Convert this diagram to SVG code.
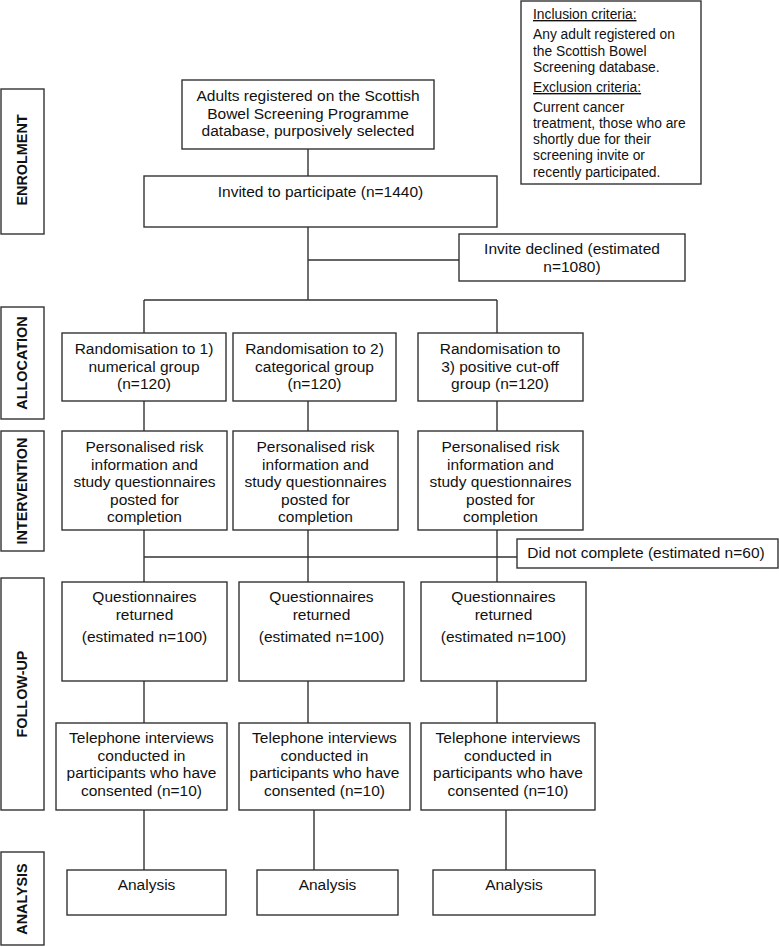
<svg xmlns="http://www.w3.org/2000/svg" width="779" height="947" viewBox="0 0 779 947">
<style>
.b{fill:#fff;stroke:#333;stroke-width:1.4}
.t{font-family:"Liberation Sans",Arial,sans-serif;font-size:15.5px;fill:#111;text-anchor:middle}
.c{font-family:"Liberation Sans",Arial,sans-serif;font-size:13.8px;fill:#111}
.s{font-family:"Liberation Sans",Arial,sans-serif;font-size:14.4px;font-weight:bold;fill:#111;text-anchor:middle}
.l{fill:none;stroke:#333;stroke-width:1.4}
</style>
<rect width="779" height="947" fill="#fff"/>
<g id="connectors">
<path class="l" d="M308 149V176M308 227V300M308 260H459M144 300H497M144 300V333M497 300V333M144 401V431M308 401V431M497 401V431M144 530V582M308 530V582M497 530V582M144 557H517M144 681V723M308 681V723M497 681V723M144 810V870M314 810V870M506 810V870"/>
</g>
<g id="stage-enrolment"><rect class="b" x="1" y="89" width="43" height="145"/><text class="s" transform="translate(26.5 160) rotate(-90)">ENROLMENT</text></g>
<g id="stage-allocation"><rect class="b" x="1" y="307" width="43" height="112"/><text class="s" transform="translate(26.5 363) rotate(-90)">ALLOCATION</text></g>
<g id="stage-intervention"><rect class="b" x="1" y="431" width="43" height="120"/><text class="s" transform="translate(26.5 491) rotate(-90)">INTERVENTION</text></g>
<g id="stage-followup"><rect class="b" x="1" y="578" width="43" height="232"/><text class="s" transform="translate(26.5 694) rotate(-90)">FOLLOW-UP</text></g>
<g id="stage-analysis"><rect class="b" x="1" y="852" width="43" height="93"/><text class="s" transform="translate(26.5 899) rotate(-90)">ANALYSIS</text></g>
<g id="criteria"><rect class="b" x="521" y="1" width="180" height="183"/>
<text class="c" x="533" y="19" text-decoration="underline">Inclusion criteria:</text>
<text class="c" x="533" y="39">Any adult registered on</text>
<text class="c" x="533" y="56">the Scottish Bowel</text>
<text class="c" x="533" y="72">Screening database.</text>
<text class="c" x="533" y="92" text-decoration="underline">Exclusion criteria:</text>
<text class="c" x="533" y="112">Current cancer</text>
<text class="c" x="533" y="128">treatment, those who are</text>
<text class="c" x="533" y="144">shortly due for their</text>
<text class="c" x="533" y="160">screening invite or</text>
<text class="c" x="533" y="177">recently participated.</text>
</g>
<g id="adults"><rect class="b" x="182" y="80" width="252" height="69"/>
<text class="t" x="308" y="101">Adults registered on the Scottish</text>
<text class="t" x="308" y="118.5">Bowel Screening Programme</text>
<text class="t" x="308" y="136">database, purposively selected</text></g>
<g id="invited"><rect class="b" x="144" y="176" width="353" height="51"/>
<text class="t" x="320.5" y="197">Invited to participate (n=1440)</text></g>
<g id="declined"><rect class="b" x="459" y="234" width="226" height="47"/>
<text class="t" x="572" y="254">Invite declined (estimated</text>
<text class="t" x="572" y="272">n=1080)</text></g>
<g id="rand1"><rect class="b" x="62" y="333" width="164" height="68"/>
<text class="t" x="144" y="354">Randomisation to 1)</text>
<text class="t" x="144" y="371.5">numerical group</text>
<text class="t" x="144" y="389">(n=120)</text></g>
<g id="rand2"><rect class="b" x="233" y="333" width="163" height="68"/>
<text class="t" x="314.5" y="354">Randomisation to 2)</text>
<text class="t" x="314.5" y="371.5">categorical group</text>
<text class="t" x="314.5" y="389">(n=120)</text></g>
<g id="rand3"><rect class="b" x="418" y="333" width="165" height="68"/>
<text class="t" x="500" y="354">Randomisation to</text>
<text class="t" x="500" y="371.5">3) positive cut-off</text>
<text class="t" x="500" y="389">group (n=120)</text></g>
<g id="int1"><rect class="b" x="62" y="431" width="165" height="99"/>
<text class="t" x="144.5" y="452">Personalised risk</text>
<text class="t" x="144.5" y="469.5">information and</text>
<text class="t" x="144.5" y="487">study questionnaires</text>
<text class="t" x="144.5" y="504.5">posted for</text>
<text class="t" x="144.5" y="522">completion</text></g>
<g id="int2"><rect class="b" x="233" y="431" width="165" height="99"/>
<text class="t" x="315.5" y="452">Personalised risk</text>
<text class="t" x="315.5" y="469.5">information and</text>
<text class="t" x="315.5" y="487">study questionnaires</text>
<text class="t" x="315.5" y="504.5">posted for</text>
<text class="t" x="315.5" y="522">completion</text></g>
<g id="int3"><rect class="b" x="418" y="431" width="165" height="99"/>
<text class="t" x="500.5" y="452">Personalised risk</text>
<text class="t" x="500.5" y="469.5">information and</text>
<text class="t" x="500.5" y="487">study questionnaires</text>
<text class="t" x="500.5" y="504.5">posted for</text>
<text class="t" x="500.5" y="522">completion</text></g>
<g id="notcomplete"><rect class="b" x="517" y="539" width="261" height="29"/>
<text class="t" x="646" y="558">Did not complete (estimated n=60)</text></g>
<g id="q1"><rect class="b" x="62" y="582" width="165" height="99"/>
<text class="t" x="144.5" y="602">Questionnaires</text>
<text class="t" x="144.5" y="619.5">returned</text>
<text class="t" x="144.5" y="642">(estimated n=100)</text></g>
<g id="q2"><rect class="b" x="239" y="582" width="165" height="99"/>
<text class="t" x="321.5" y="602">Questionnaires</text>
<text class="t" x="321.5" y="619.5">returned</text>
<text class="t" x="321.5" y="642">(estimated n=100)</text></g>
<g id="q3"><rect class="b" x="421" y="582" width="165" height="99"/>
<text class="t" x="503.5" y="602">Questionnaires</text>
<text class="t" x="503.5" y="619.5">returned</text>
<text class="t" x="503.5" y="642">(estimated n=100)</text></g>
<g id="tel1"><rect class="b" x="56" y="723" width="171" height="87"/>
<text class="t" x="141.5" y="743">Telephone interviews</text>
<text class="t" x="141.5" y="760.5">conducted in</text>
<text class="t" x="141.5" y="778">participants who have</text>
<text class="t" x="141.5" y="795.5">consented (n=10)</text></g>
<g id="tel2"><rect class="b" x="239" y="723" width="171" height="87"/>
<text class="t" x="324.5" y="743">Telephone interviews</text>
<text class="t" x="324.5" y="760.5">conducted in</text>
<text class="t" x="324.5" y="778">participants who have</text>
<text class="t" x="324.5" y="795.5">consented (n=10)</text></g>
<g id="tel3"><rect class="b" x="421" y="723" width="174" height="87"/>
<text class="t" x="508" y="743">Telephone interviews</text>
<text class="t" x="508" y="760.5">conducted in</text>
<text class="t" x="508" y="778">participants who have</text>
<text class="t" x="508" y="795.5">consented (n=10)</text></g>
<g id="an1"><rect class="b" x="67" y="870" width="159" height="45"/>
<text class="t" x="146.5" y="890">Analysis</text></g>
<g id="an2"><rect class="b" x="257" y="870" width="141" height="45"/>
<text class="t" x="327.5" y="890">Analysis</text></g>
<g id="an3"><rect class="b" x="433" y="870" width="162" height="45"/>
<text class="t" x="514" y="890">Analysis</text></g>
</svg>
